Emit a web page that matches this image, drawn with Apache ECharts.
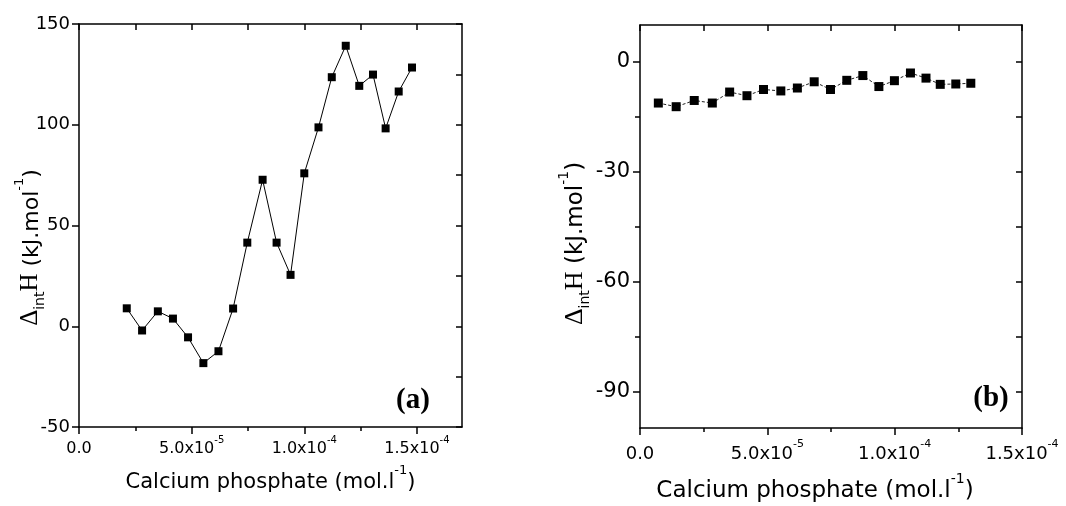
<!DOCTYPE html>
<html><head><meta charset="utf-8">
<script src="https://cdn.jsdelivr.net/npm/echarts@6/dist/echarts.min.js"></script>
<style>html,body{margin:0;padding:0;background:#fff}#c{width:1066px;height:506px}</style>
</head><body><div id="c"></div>
<script>
// ---- data ----
const leftX = [2.12e-5, 2.80e-5, 3.50e-5, 4.17e-5, 4.84e-5, 5.52e-5, 6.19e-5, 6.84e-5, 7.47e-5, 8.15e-5, 8.77e-5,
  9.39e-5, 1.000e-4, 1.063e-4, 1.122e-4, 1.184e-4, 1.244e-4, 1.305e-4, 1.361e-4, 1.419e-4, 1.478e-4];
const leftY = [8.9, -2.1, 7.4, 3.8, -5.5, -18.3, -12.4, 8.8, 41.5, 72.7, 41.5,
  25.5, 75.9, 98.7, 123.6, 139.2, 119.3, 124.9, 98.2, 116.5, 128.4];
const rightX = [7.2e-6, 1.42e-5, 2.13e-5, 2.84e-5, 3.52e-5, 4.20e-5, 4.85e-5, 5.53e-5, 6.18e-5, 6.84e-5,
  7.48e-5, 8.12e-5, 8.75e-5, 9.38e-5, 9.99e-5, 1.062e-4, 1.123e-4, 1.179e-4, 1.240e-4, 1.299e-4];
const rightY = [-11.3, -12.3, -10.6, -11.3, -8.3, -9.3, -7.6, -8.0, -7.2, -5.5,
  -7.6, -5.1, -3.8, -6.8, -5.2, -3.1, -4.5, -6.2, -6.1, -5.9];

// ---- tick values ----
const xTickValues = [0, 5e-5, 1e-4, 1.5e-4];
const xMinorValues = [2.5e-5, 7.5e-5, 1.25e-4];
const xAllValues = [0, 2.5e-5, 5e-5, 7.5e-5, 1e-4, 1.25e-4, 1.5e-4];
const leftYTickValues = [-50, 0, 50, 100, 150];
const leftYAllValues = [-50, -25, 0, 25, 50, 75, 100, 125, 150];
const rightYTickValues = [-90, -60, -30, 0];
const rightYMinorValues = [-75, -45, -15];
const rightYAllValues = [-90, -75, -60, -45, -30, -15, 0];

const SANS = '"DejaVu Sans", "Liberation Sans", Arial, sans-serif';
const SERIF = '"Liberation Serif", "Times New Roman", serif';
const BLACK = '#000';

function sci(v) {
  if (Math.abs(v) < 1e-12) return '{n|0.0}';
  const e = Math.floor(Math.log10(v) + 1e-9);
  const m = (v / Math.pow(10, e)).toFixed(1);
  return '{n|' + m + 'x10}{s|' + e + '}';
}
function xRich(size) {
  return {
    n: { fontSize: size, fontFamily: SANS, color: BLACK, lineHeight: size + 6, verticalAlign: 'bottom' },
    s: { fontSize: Math.round(size * 0.62), fontFamily: SANS, color: BLACK, lineHeight: size + 6, verticalAlign: 'top' }
  };
}
function titleRich(size) {
  return {
    t: { fontSize: size, fontFamily: SANS, color: BLACK, lineHeight: size + 8, verticalAlign: 'bottom' },
    sup: { fontSize: Math.round(size * 0.6), fontFamily: SANS, color: BLACK, lineHeight: size + 8, verticalAlign: 'top' },
    d: { fontSize: size + 3, fontFamily: SERIF, color: BLACK, lineHeight: size + 8, verticalAlign: 'bottom' },
    sub: { fontSize: Math.round(size * 0.62), fontFamily: SANS, color: BLACK, lineHeight: size + 8, verticalAlign: 'bottom', padding: [0, 0, -4, 0] }
  };
}
const lineStyle = { color: BLACK, width: 1.5 };
const none = { show: false };

function mainX(gridIndex, max, size, margin) {
  return {
    type: 'value', gridIndex, position: 'bottom', min: 0, max, interval: 2.5e-5,
    axisLine: { show: true, onZero: false, lineStyle },
    axisTick: { show: true, inside: false, length: 7, customValues: xTickValues, lineStyle },
    axisLabel: { show: true, customValues: xTickValues, formatter: sci, margin, rich: xRich(size), hideOverlap: false },
    splitLine: none, nameMoveOverlap: false
  };
}
function minorX(gridIndex, max) {
  return {
    type: 'value', gridIndex, position: 'bottom', min: 0, max, interval: 2.5e-5,
    axisLine: { show: false, onZero: false },
    axisTick: { show: true, inside: false, length: 4, customValues: xMinorValues, lineStyle },
    axisLabel: none, splitLine: none
  };
}
function topX(gridIndex, max) {
  return {
    type: 'value', gridIndex, position: 'top', min: 0, max, interval: 2.5e-5,
    axisLine: { show: true, onZero: false, lineStyle },
    axisTick: { show: true, inside: true, length: 6, customValues: xAllValues, lineStyle },
    axisLabel: none, splitLine: none
  };
}

const option = {
  backgroundColor: '#fff',
  animation: false,
  grid: [
    { left: 79, top: 24, width: 383, height: 403, outerBoundsMode: 'none', containLabel: false },
    { left: 640, top: 25, width: 382, height: 403, outerBoundsMode: 'none', containLabel: false }
  ],
  xAxis: [
    Object.assign(mainX(0, 1.7e-4, 16, 8), {
      name: '{t|Calcium phosphate (mol.l}{sup|-1}{t|)}', nameLocation: 'middle', nameGap: 37,
      nameTextStyle: { rich: titleRich(21) }
    }),
    minorX(0, 1.7e-4),
    topX(0, 1.7e-4),
    Object.assign(mainX(1, 1.5e-4, 18, 11), {
      name: '{t|Calcium phosphate (mol.l}{sup|-1}{t|)}', nameLocation: 'middle', nameGap: 44,
      nameTextStyle: { rich: titleRich(23), padding: [0, 32, 0, 0] }
    }),
    minorX(1, 1.5e-4),
    topX(1, 1.5e-4)
  ],
  yAxis: [
    {
      type: 'value', gridIndex: 0, position: 'left', min: -50, max: 150, interval: 50,
      axisLine: { show: true, onZero: false, lineStyle },
      axisTick: { show: true, inside: false, length: 7, customValues: leftYTickValues, lineStyle },
      axisLabel: { show: true, customValues: leftYTickValues, fontSize: 18, fontFamily: SANS, color: BLACK, margin: 9 },
      splitLine: none, nameMoveOverlap: false,
      name: '{d|Δ}{sub|int}{d|H}{t| (kJ.mol}{sup|-1}{t|)}', nameLocation: 'middle', nameGap: 36, nameRotate: 90,
      nameTextStyle: { rich: titleRich(22), padding: [0, 44, 0, 0] }
    },
    {
      type: 'value', gridIndex: 0, position: 'right', min: -50, max: 150, interval: 25,
      axisLine: { show: true, onZero: false, lineStyle },
      axisTick: { show: true, inside: true, length: 6, customValues: leftYAllValues, lineStyle },
      axisLabel: none, splitLine: none
    },
    {
      type: 'value', gridIndex: 1, position: 'left', min: -100, max: 10, interval: 5,
      axisLine: { show: true, onZero: false, lineStyle },
      axisTick: { show: true, inside: false, length: 7, customValues: rightYTickValues, lineStyle },
      axisLabel: { show: true, customValues: rightYTickValues, fontSize: 21, fontFamily: SANS, color: BLACK, margin: 10 },
      splitLine: none, nameMoveOverlap: false,
      name: '{d|Δ}{sub|int}{d|H}{t| (kJ.mol}{sup|-1}{t|)}', nameLocation: 'middle', nameGap: 52, nameRotate: 90,
      nameTextStyle: { rich: titleRich(23), padding: [0, 34, 0, 0] }
    },
    {
      type: 'value', gridIndex: 1, position: 'left', min: -100, max: 10, interval: 5,
      axisLine: { show: false, onZero: false },
      axisTick: { show: true, inside: false, length: 5, customValues: rightYMinorValues, lineStyle },
      axisLabel: none, splitLine: none
    },
    {
      type: 'value', gridIndex: 1, position: 'right', min: -100, max: 10, interval: 5,
      axisLine: { show: true, onZero: false, lineStyle },
      axisTick: { show: true, inside: true, length: 6, customValues: rightYAllValues, lineStyle },
      axisLabel: none, splitLine: none
    }
  ],
  series: [
    {
      type: 'line', xAxisIndex: 0, yAxisIndex: 0,
      data: leftX.map((x, i) => [x, leftY[i]]),
      symbol: 'rect', symbolSize: 8,
      itemStyle: { color: BLACK },
      lineStyle: { color: BLACK, width: 1 }
    },
    {
      type: 'line', xAxisIndex: 3, yAxisIndex: 2,
      data: rightX.map((x, i) => [x, rightY[i]]),
      symbol: 'rect', symbolSize: 9,
      itemStyle: { color: BLACK },
      lineStyle: { color: '#222', width: 1, type: [3, 2] }
    }
  ],
  graphic: [
    { type: 'text', x: 413, y: 401, style: { text: '(a)', font: 'bold 29px ' + SERIF, fill: BLACK, align: 'center', verticalAlign: 'middle' } },
    { type: 'text', x: 991, y: 399, style: { text: '(b)', font: 'bold 29px ' + SERIF, fill: BLACK, align: 'center', verticalAlign: 'middle' } }
  ]
};
const chart = echarts.init(document.getElementById('c'), null, { renderer: 'canvas' });
chart.setOption(option);
</script>
</body></html>
